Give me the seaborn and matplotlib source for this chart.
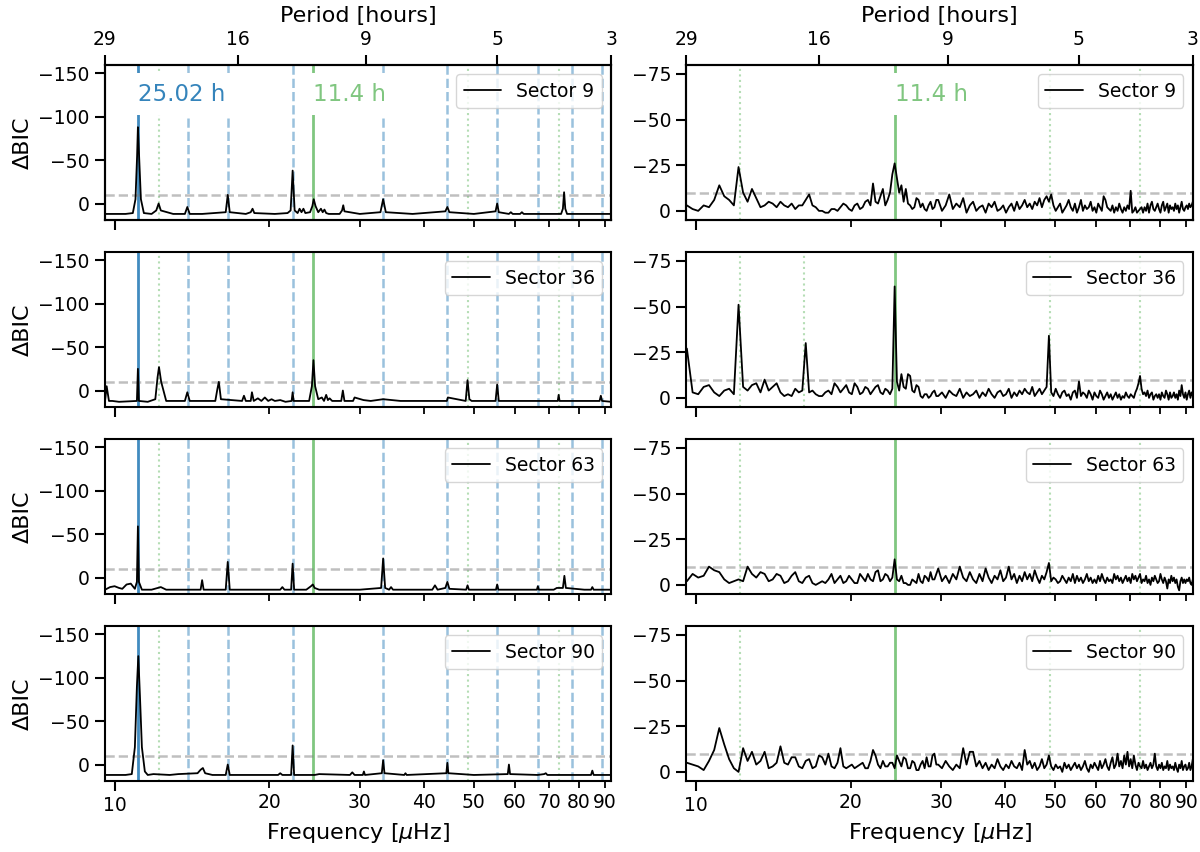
import numpy as np
import pandas as pd
import matplotlib
matplotlib.use("Agg")
import matplotlib.pyplot as plt
from matplotlib.ticker import FixedLocator, FixedFormatter, NullLocator, FuncFormatter, LogLocator
import seaborn as sns

# --- signals (hours) and harmonic multipliers ---
p_rot = 25.02          # blue signal
p_sec = 11.4           # green signal
blue_mult = [1.25, 1.5, 2, 3, 4, 5, 6, 7, 8]
green_mult = [0.5, 2, 3]
green_mult_s36 = [0.5, 2 / 3, 2, 3]
period_ticks = [29, 16, 9, 5, 3]
sectors = [9, 36, 63, 90]

# --- left column: full-model dBIC (freq in uHz) ---
freq9L = [9.58, 10.5, 10.85, 10.98, 11.06, 11.1, 11.15, 11.25, 11.4, 11.8, 12.05, 12.18, 12.3, 13.0, 13.7,
          13.85, 14.0, 14.8, 16.45, 16.6, 16.75, 18.0, 18.4, 18.55, 18.7, 20.5, 21.7, 22.0, 22.2, 22.4, 22.7,
          22.9, 23.1, 23.3, 23.5, 24.0, 24.25, 24.4, 24.6, 24.9, 25.2, 25.4, 25.6, 25.8, 26.1, 27.4, 27.7,
          27.85, 28.0, 30.0, 32.9, 33.3, 33.7, 38.0, 44.0, 44.4, 44.8, 50.0, 55.1, 55.5, 55.9, 58.5, 59.0,
          59.5, 61.5, 62.0, 62.5, 73.9, 74.5, 74.9, 75.3, 75.9, 85.0, 92.6]
dbic9L = [12, 12, 11, -5, -55, -88, -60, -5, 11, 12, 8, 0, 8, 12, 12, 4, 12, 12, 10, -10,
          10, 12, 10, 6, 11, 12, 11, 8, -38, 8, 11, 6, 10, 6, 11, 10, 3, -5, 3, 10,
          6, 10, 7, 11, 12, 12, 8, 2, 9, 12, 10, -5, 10, 12, 9, 4, 10, 12, 9, 0,
          10, 12, 10, 12, 12, 10, 12, 12, 6, -13, 6, 12, 12, 12]

freq36L = [9.58, 9.65, 9.75, 9.9, 10.2, 11.05, 11.1, 11.15, 11.6, 12.0, 12.12, 12.2, 12.32, 12.6, 13.7,
           13.85, 14.0, 15.7, 15.85, 15.95, 16.1, 17.7, 17.85, 18.0, 18.4, 18.5, 18.65, 19.0, 19.3, 19.6,
           19.9, 20.2, 20.5, 21.0, 21.5, 22.1, 22.2, 22.3, 23.9, 24.2, 24.37, 24.55, 24.9, 25.3, 25.55,
           25.8, 26.0, 26.2, 26.5, 27.6, 27.8, 28.0, 29.1, 29.3, 30.5, 31.5, 33.3, 36.0, 44.3, 44.5, 48.2,
           48.6, 49.0, 49.5, 55.1, 55.5, 55.9, 72.8, 73.1, 73.4, 87.8, 88.3, 88.8, 92.6]
dbic36L = [12, -5, 12, 12, 13, 12, -25, 12, 13, 10, -15, -27, -10, 12, 12, 2, 12, 12, -2, -10,
           10, 12, 6, 12, 12, 2, 12, 9, 12, 8, 12, 10, 12, 11, 13, 12, 2, 12, 12, -5,
           -35, -5, 10, 8, 12, 5, 11, 9, 12, 12, 0, 12, 12, 8, 11, 12, 10, 12, 12, 8,
           12, -12, 10, 12, 12, -7, 12, 12, 5, 12, 12, 6, 12, 13]

freq63L = [9.58, 9.8, 10.0, 10.2, 10.35, 10.55, 10.75, 10.95, 11.05, 11.1, 11.15, 11.3, 11.8, 12.3, 12.6,
           13.5, 14.7, 14.8, 14.9, 16.45, 16.6, 16.75, 20.0, 21.0, 21.2, 21.4, 22.05, 22.2, 22.35, 23.6,
           24.1, 24.3, 24.5, 25.0, 30.0, 33.0, 33.3, 33.6, 34.2, 34.5, 34.8, 40.0, 41.5, 42.0, 42.5, 44.0,
           44.4, 44.8, 48.3, 48.6, 48.9, 55.2, 55.5, 55.8, 62.0, 66.3, 66.6, 66.9, 71.5, 72.5, 74.5, 75.0,
           75.5, 82.0, 84.5, 85.0, 85.5, 92.6]
dbic63L = [14, 11, 10, 12, 13, 8, 7, 13, 5, -59, 5, 14, 14, 11, 14, 14, 14, 3, 14, 14,
           -18, 14, 14, 14, 11, 14, 14, -16, 14, 14, 10, 8, 12, 14, 14, 12, -22, 12, 14, 11,
           14, 14, 14, 9, 14, 12, 5, 13, 14, 9, 14, 14, 8, 14, 14, 14, 10, 14, 14, 12,
           12, -2, 12, 14, 14, 11, 14, 14]

freq90L = [9.58, 10.5, 10.8, 10.95, 11.05, 11.12, 11.2, 11.3, 11.45, 11.6, 11.9, 12.8, 13.3, 14.5, 14.7,
           14.85, 15.0, 15.5, 16.45, 16.6, 16.75, 19.0, 20.8, 21.0, 21.2, 22.05, 22.2, 22.35, 24.5, 25.0,
           28.7, 29.0, 29.3, 30.4, 30.55, 30.7, 33.1, 33.3, 33.5, 36.6, 36.8, 37.0, 44.2, 44.4, 44.6, 50.0,
           58.2, 58.5, 58.8, 66.5, 68.5, 69.0, 69.5, 84.5, 85.0, 85.5, 92.6]
dbic90L = [12, 12, 11, -20, -90, -125, -80, -20, 8, 12, 11, 12, 11, 10, 6, 4, 10, 12, 12, 0,
           12, 12, 12, 10, 12, 12, -22, 12, 12, 11, 12, 9, 12, 12, 8, 12, 10, -5, 10, 12,
           10, 12, 10, -2, 10, 12, 11, 0, 11, 12, 11, 10, 12, 12, 7, 12, 12]

# --- right column: residual periodogram, 0.25 uHz steps below 30 uHz, 0.5 uHz above ---
freq_r = np.round(np.concatenate([9.6 + 0.25 * np.arange(81), 30.1 + 0.5 * np.arange(127)]), 2)
dbic9R = [-3, -1, 0, -3, -2, -6, -14, -8, -6, -3,
          -24, -10, -5, -12, -7, -2, -3, -5, -4, -2,
          -5, -3, -2, -4, -1, -3, -3, -6, -9, -3,
          -2, 0, 0, 1, 1, -1, -1, 0, -2, -4,
          -3, -1, 0, -3, -4, -1, -2, -5, -6, -3,
          -15, -5, -4, -8, -12, -3, -6, -10, -20, -26,
          -18, -10, -14, -5, -12, -4, -3, -1, -2, -7,
          -6, -2, -4, -1, 0, -3, -5, -1, -2, -6,
          -6,
          0, -3, -9, -1, -4, -2, -7, 1, -3,
          -5, 0, -2, -3, 1, -4, -2, -5, 0, -1,
          -3, 1, -2, -4, 0, -5, -1, -3, -6, -2,
          -4, -1, -5, -3, -7, -2, -6, -8, -5, -9,
          -3, 0, -2, -4, 1, -1, -3, -6, -2, 0,
          -4, 1, -2, -6, 0, -3, -1, -2, -5, 0,
          -2, 1, -4, -2, 0, -8, -6, -2, -1, 0,
          -3, 1, -2, 0, -4, -1, 1, -2, 0, -3,
          -1, -11, 1, 0, -2, 1, 0, -1, -2, 1,
          -2, 0, -4, 1, -3, -5, -1, 0, -2, -4,
          -1, 1, -3, -5, 0, -2, -4, 1, -3, -1,
          -2, 0, -4, -1, -3, 1, -2, -5, -1, 0,
          -2, -3, -1, -4, -2, -3, -5, -3]
dbic36R = [-27, -3, -2, -6, -7, -3, -1, -4, -5, -2,
           -51, -6, -4, -7, -8, -3, -10, -4, -6, -8,
           -3, -1, -2, -1, -5, -3, -4, -30, -3, -4,
           -2, -1, -1, -3, -4, -2, -8, -6, -3, -5,
           -7, -3, -2, -8, -6, -2, -3, -6, -5, -2,
           -4, -6, -7, -3, -2, -5, -4, -2, -5, -61,
           -9, -4, -13, -6, -5, -13, -12, -4, -3, -7,
           -6, -1, 0, -2, -2, 0, -1, -3, -4, -1,
           -1,
           -3, 0, -4, -2, -1, -5, 0, -3, -1,
           -2, -4, 0, -3, -1, -5, -2, 0, -3, -4,
           -1, -2, -5, 0, -3, -1, -4, -2, -5, -3,
           -2, -6, -1, -3, -5, -2, -4, -6, -34, -3,
           -1, -5, -2, 0, -3, -4, -1, -2, 1, -3,
           -4, 0, -9, -1, -3, -2, 0, -4, -2, 1,
           -3, -1, 0, -4, -2, 1, -1, -3, 0, -2,
           1, -1, -3, 0, -2, 1, -1, 0, -3, -1,
           0, -2, -1, 0, -3, -5, -8, -12, -5, -2,
           -3, -1, -4, 0, -2, -3, 1, -1, -2, 0,
           -2, 1, -3, -1, 0, -4, -2, 1, -3, 0,
           -1, -3, 0, -2, 1, -4, -1, -7, -2, 0,
           -3, 1, -2, -4, 0, -3, -1, -5]
dbic63R = [-2, -6, -4, -5, -10, -8, -7, -3, -1, -2,
           -3, -2, -10, -6, -4, -7, -6, -2, -3, -6,
           -5, -1, -2, -5, -7, -2, -1, -4, -5, -1,
           0, -1, -2, -1, -3, -6, -1, -3, -5, -1,
           -2, -5, -3, -1, -1, -6, -4, -2, -6, -3,
           -2, -7, -8, -2, -3, -6, -5, -2, -4, -14,
           -3, -2, -5, -1, -1, 0, 0, -3, -2, -1,
           -6, -2, -1, -5, -4, -2, -7, -3, -3, -6,
           -9,
           -2, -5, -1, -6, -3, -10, -4, -2, -7,
           -3, -1, -6, -2, -9, -4, -1, -5, -3, -8,
           -2, -4, -10, -3, -6, -1, -5, -2, -7, -3,
           -6, -2, -8, -4, -1, -5, -3, -7, -12, -2,
           -4, -3, -1, -2, -5, -3, -1, -4, -2, -6,
           -1, -5, -2, -4, -1, -3, -6, -2, -4, -1,
           -3, -1, -5, -2, -6, -3, -1, -4, -2, -3,
           -1, -6, -3, -5, -2, -4, -1, -3, -5, -2,
           -4, -1, -6, -3, -5, -2, -4, -6, -1, -3,
           -2, -5, -1, -3, 0, -4, -2, -5, -3, -1,
           -2, -6, -3, -1, -4, -2, 2, -3, -1, -5,
           -2, -4, -1, -3, 1, 3, -2, -4, -1, -3,
           -1, -3, -2, -4, -1, 0, -3, -2]
dbic90R = [-5, -4, -3, -1, -6, -12, -24, -15, -7, -2,
           0, -13, -6, -11, -4, -6, -11, -2, -3, -5,
           -14, -5, -4, -8, -8, -3, -2, -6, -7, -2,
           -3, -9, -8, -4, -10, -3, -2, -5, -13, -3,
           -2, -3, -4, -2, -3, -4, -5, -2, -2, -6,
           -12, -9, -4, -2, -6, -3, -3, -5, -5, -2,
           -9, -6, -3, -8, -7, -2, -2, -6, -5, -1,
           -1, -4, -6, -2, -8, -3, -3, -9, -10, -4,
           -4,
           -2, -6, -3, -1, -4, -2, -13, -4, -11,
           -11, -3, -6, -2, -5, -1, -4, -2, -7, -3,
           -1, -4, -2, -6, -3, -2, -5, -1, -12, -4,
           -6, -2, -5, -1, -3, -7, -2, -4, -9, -3,
           -1, -4, -2, -3, 0, -5, -2, -4, -1, -3,
           -5, -2, -4, -1, -3, -6, -2, 0, -4, -2,
           -5, -3, -1, -6, -2, -4, -7, -3, -1, -5,
           -8, -2, -4, -10, -3, -6, -2, -9, -4, -11,
           -3, -7, -2, -9, -4, -1, -5, -3, -2, -6,
           -2, -4, -1, -3, -5, -2, -4, -10, -3, -1,
           -4, -2, -5, -1, -3, -2, -6, -1, -4, -2,
           -3, -1, -5, -2, 0, -4, -2, -6, -1, -3,
           -4, -1, -2, -5, -1, -3, -7, -2]

left_data = [(freq9L, dbic9L), (freq36L, dbic36L), (freq63L, dbic63L), (freq90L, dbic90L)]
right_data = [dbic9R, dbic36R, dbic63R, dbic90R]


def hours_to_uhz(p):
    return 1e6 / (p * 3600.0)


f_rot = hours_to_uhz(p_rot)
f_sec = hours_to_uhz(p_sec)
xlim = (hours_to_uhz(29), hours_to_uhz(3))

TICK_FS = 13.5
LABEL_FS = 16
LEGEND_FS = 13.5
NOTE_FS = 16.5

sns.set_theme(style="ticks", rc={
    "axes.edgecolor": "black", "axes.linewidth": 1.5,
    "xtick.color": "black", "ytick.color": "black",
    "text.color": "black", "axes.labelcolor": "black",
})
plt.rcParams["font.family"] = ["DejaVu Sans"]

fig, axes = plt.subplots(4, 2, figsize=(12, 8.52), dpi=100)
plt.subplots_adjust(left=0.0875, right=0.994, top=0.924, bottom=0.0833, wspace=0.148, hspace=0.2045)


def style_xaxis(ax, show_labels):
    ax.set_xscale("log")
    ax.set_xlim(xlim)
    ax.xaxis.set_major_locator(LogLocator(base=10))
    ax.xaxis.set_minor_locator(LogLocator(base=10, subs=np.arange(2, 10)))
    ax.xaxis.set_major_formatter(FuncFormatter(lambda v, p: f"{v:g}"))
    ax.xaxis.set_minor_formatter(FuncFormatter(lambda v, p: f"{v:g}"))
    ax.tick_params(axis="x", which="both", labelbottom=show_labels, labelsize=TICK_FS)
    ax.tick_params(which="major", length=7.5, width=1.5)
    ax.tick_params(which="minor", length=5, width=1.3)
    ax.tick_params(axis="y", labelsize=TICK_FS)


def add_period_axis(ax):
    top = ax.twiny()
    top.set_xscale("log")
    top.set_xlim(xlim)
    top.xaxis.set_major_locator(FixedLocator([hours_to_uhz(p) for p in period_ticks]))
    top.xaxis.set_major_formatter(FixedFormatter([str(p) for p in period_ticks]))
    top.xaxis.set_minor_locator(NullLocator())
    top.tick_params(which="major", length=7.5, width=1.5, labelsize=TICK_FS)
    top.set_xlabel("Period [hours]", fontsize=LABEL_FS, labelpad=6)


def add_note(ax, x, txt, color, alpha):
    ax.text(x, 0.81, txt, transform=ax.get_xaxis_transform(), color=color, alpha=alpha,
            fontsize=NOTE_FS, ha="left", va="center", zorder=4,
            bbox=dict(facecolor="white", edgecolor="none", pad=7))


for i, sector in enumerate(sectors):
    is_bottom = i == len(sectors) - 1

    # left column
    ax = axes[i, 0]
    ax.axvline(f_rot, color="tab:blue", lw=2, alpha=0.85, zorder=1)
    for m in blue_mult:
        ax.axvline(m * f_rot, color="tab:blue", ls="--", lw=1.8, alpha=0.45, zorder=1)
    ax.axvline(f_sec, color="tab:green", lw=2, alpha=0.6, zorder=1)
    for m in green_mult:
        ax.axvline(m * f_sec, color="tab:green", ls=":", lw=1.5, alpha=0.35, zorder=1)
    ax.axhline(-10, color="gray", ls="--", lw=1.8, alpha=0.5, zorder=1)
    df = pd.DataFrame({"freq": left_data[i][0], "dbic": left_data[i][1]})
    sns.lineplot(data=df, x="freq", y="dbic", color="black", lw=1.3, ax=ax,
                 label=f"Sector {sector}", zorder=3)
    style_xaxis(ax, is_bottom)
    ax.set_ylim(19, -160)
    ax.set_yticks([-150, -100, -50, 0])
    ax.set_ylabel("ΔBIC", fontsize=LABEL_FS)
    ax.set_xlabel("Frequency [$\\mu$Hz]" if is_bottom else "", fontsize=LABEL_FS)
    ax.legend(loc="upper right", fontsize=LEGEND_FS)
    if i == 0:
        add_period_axis(ax)
        add_note(ax, f_rot, "25.02 h", "tab:blue", 0.9)
        add_note(ax, f_sec, "11.4 h", "tab:green", 0.6)

    # right column
    ax = axes[i, 1]
    ax.axvline(f_sec, color="tab:green", lw=2, alpha=0.6, zorder=1)
    for m in (green_mult_s36 if sector == 36 else green_mult):
        ax.axvline(m * f_sec, color="tab:green", ls=":", lw=1.5, alpha=0.35, zorder=1)
    ax.axhline(-10, color="gray", ls="--", lw=1.8, alpha=0.5, zorder=1)
    df = pd.DataFrame({"freq": freq_r, "dbic": right_data[i]})
    sns.lineplot(data=df, x="freq", y="dbic", color="black", lw=1.3, ax=ax,
                 label=f"Sector {sector}", zorder=3)
    style_xaxis(ax, is_bottom)
    ax.set_ylim(5, -80)
    ax.set_yticks([-75, -50, -25, 0])
    ax.set_ylabel("")
    ax.set_xlabel("Frequency [$\\mu$Hz]" if is_bottom else "", fontsize=LABEL_FS)
    ax.legend(loc="upper right", fontsize=LEGEND_FS)
    if i == 0:
        add_period_axis(ax)
        add_note(ax, f_sec, "11.4 h", "tab:green", 0.6)

fig.savefig("out.png", dpi=100)
